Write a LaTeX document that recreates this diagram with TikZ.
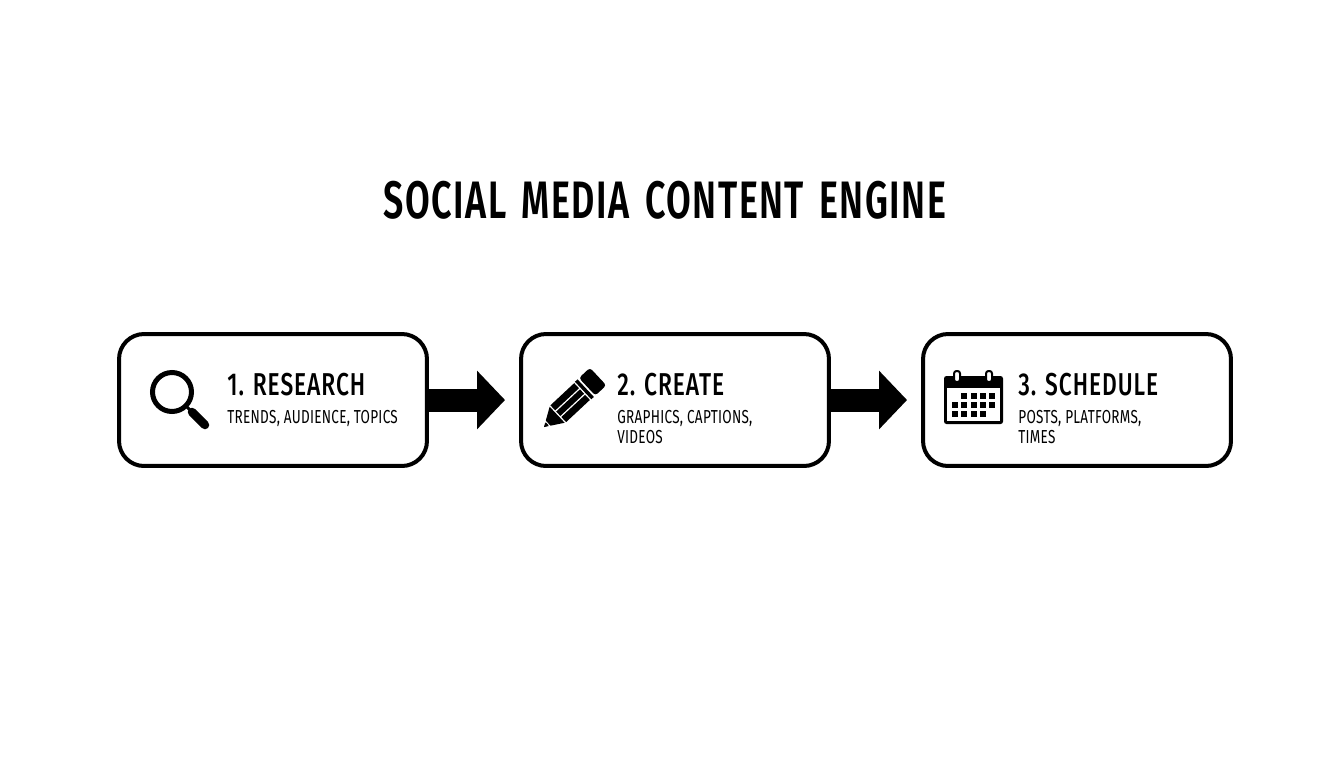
\documentclass[tikz,border=0pt]{standalone}
\usepackage{fontspec}
\usetikzlibrary{arrows.meta}
\newfontfamily\subfont[FakeStretch=0.72,LetterSpace=1.5]{Fira Sans}
\newfontfamily\headfont[FakeStretch=0.72,LetterSpace=3]{Fira Sans Medium}
\newfontfamily\titlefont[FakeStretch=0.68,LetterSpace=2.9,WordSpace=1.5]{Fira Sans SemiBold}

\begin{document}
\begin{tikzpicture}[x=0.02cm,y=-0.02cm]
    \tikzstyle{stepbox}=[draw, line width=0.08cm, rounded corners=0.5cm, fill=white,
    minimum width=6.16cm, minimum height=2.64cm, inner sep=0pt]
    \tikzstyle{flow}=[line width=0.46cm, -{Triangle[length=0.56cm,width=1.14cm]}, shorten >=0.28cm]
    \tikzstyle{head}=[anchor=base west, inner sep=0pt, font=\headfont\fontsize{18}{20}\selectfont]
    \tikzstyle{sub}=[anchor=north west, inner sep=0pt, align=left, font=\subfont\fontsize{10.7}{11.4}\selectfont]
    \useasboundingbox (0,0) rectangle (1344,768);

    \node[anchor=center, inner sep=0pt, font=\titlefont\fontsize{30}{32}\selectfont] (title) at (665,200) {SOCIAL MEDIA CONTENT ENGINE};

    \node[stepbox] (research) at (273,400) {};
    \node[stepbox] (create) at (675,400) {};
    \node[stepbox] (schedule) at (1077,400) {};

    \draw[flow] (research) -- (create);
    \draw[flow] (create) -- (schedule);

    \node[head] (researchhead) at (227,395) {1. RESEARCH};
    \node[sub] (researchsub) at (227,410) {TRENDS, AUDIENCE, TOPICS};
    \node[head] (createhead) at (617,395) {2. CREATE};
    \node[sub] (createsub) at (617,410) {GRAPHICS, CAPTIONS,\\VIDEOS};
    \node[head] (schedulehead) at (1018,395) {3. SCHEDULE};
    \node[sub] (schedulesub) at (1018,410) {POSTS, PLATFORMS,\\TIMES};

    % magnifier
    \draw[line width=0.1cm] (172,392) circle (19.5);
    \draw[line width=0.06cm] (186,406) -- (192,412);
    \draw[line width=0.17cm, line cap=round] (192,412) -- (205,425);

    % pencil
    \begin{scope}[shift={(544,427)}, rotate=43]
        \fill (0,0) -- (18,-11) -- (18,11) -- cycle;
        \fill[white] (4,-5) -- (5.5,-5) -- (5.5,5) -- (4,5) -- cycle;
        \fill (0,0) -- (4.5,-2) -- (4.5,2) -- cycle;
        \fill (19.5,-11.5) rectangle (52,-4.5);
        \fill (19.5,-3) rectangle (52,3);
        \fill (19.5,4.5) rectangle (52,11.5);
        \fill (53.5,-12) rectangle (57,12);
        \fill[rounded corners=0.06cm] (59,-12) rectangle (74,12);
    \end{scope}

    % calendar
    \fill[rounded corners=0.05cm] (944,376) rectangle (1003,424);
    \fill[white] (947,388) rectangle (1000,421);
    \foreach \cx in {957,989} {
        \draw[line width=0.04cm, fill=white, rounded corners=0.05cm] (\cx-3,371) rectangle (\cx+3,382);
    }
    \foreach \cx in {964,974,983,992} {
        \fill (\cx-3,393) rectangle (\cx+3,399);
    }
    \foreach \cx in {955,964,974,983,992} {
        \fill (\cx-3,402) rectangle (\cx+3,408);
    }
    \foreach \cx in {955,964,974,983} {
        \fill (\cx-3,411) rectangle (\cx+3,417);
    }
\end{tikzpicture}
\end{document}
